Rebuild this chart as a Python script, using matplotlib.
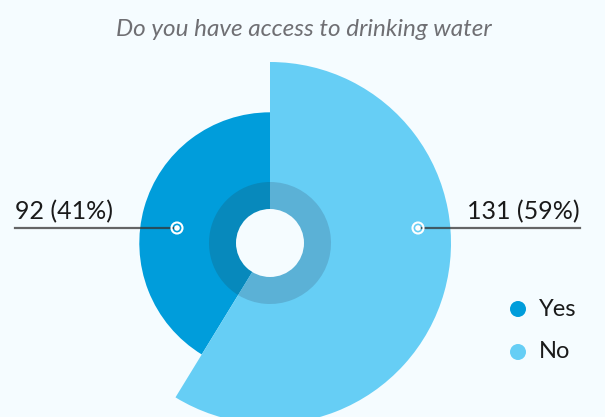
import numpy as np
import matplotlib.pyplot as plt
from matplotlib.patches import Wedge, Circle

# datos
labels = ["Yes", "No"]
values = [92, 131]
colors = ["#009DDB", "#66CEF5"]
inner_colors = ["#0789BC", "#5BB1D6"]
title = "Do you have access to drinking water"

bg = "#F5FCFF"
W, H = 605, 417
cx, cy = 270, H - 243
# radio ~ proporcional al valor (con un pequeño desplazamiento)
r0, scale = 12, (181 - 12) / max(values)
r_ring, r_hole = 61, 34

fig = plt.figure(figsize=(W / 100, H / 100), dpi=100, facecolor=bg)
ax = fig.add_axes([0, 0, 1, 1])
ax.set_xlim(0, W)
ax.set_ylim(0, H)
ax.set_aspect("equal")
ax.axis("off")

total = sum(values)
pcts = [v / total for v in values]

# el "No" empieza arriba y gira en sentido horario
start_no = 90 - 360 * pcts[1]
angles = {"No": (start_no, 90), "Yes": (90, start_no + 360)}

for lab, val, c, ic in zip(labels, values, colors, inner_colors):
    t1, t2 = angles[lab]
    ax.add_patch(Wedge((cx, cy), r0 + val * scale, t1, t2, color=c, lw=0))
    ax.add_patch(Wedge((cx, cy), r_ring, t1, t2, color=ic, lw=0))
ax.add_patch(Circle((cx, cy), r_hole, color=bg, lw=0))

# etiquetas con linea y marcador
ly = H - 228
marks = {"Yes": (177, 15, "left"), "No": (418, 580, "right")}
for lab, val, p in zip(labels, values, pcts):
    mx, lx_end, ha = marks[lab]
    ax.plot([mx, lx_end], [ly, ly], color="#333333", lw=1.6, alpha=0.75, zorder=3)
    ax.add_patch(Circle((mx, ly), 5.5, fill=False, ec="white", lw=1.5, zorder=4))
    ax.add_patch(Circle((mx, ly), 2.8, color="white", lw=0, zorder=5))
    txt = f"{val} ({p * 100:.0f}%)"
    ax.text(lx_end, ly + 5, txt, ha=ha, va="bottom", fontsize=18,
            family="Lato", color="#1A1A1A")

# leyenda
for i, (lab, c) in enumerate(zip(labels, colors)):
    y = H - 309 - i * 43
    ax.add_patch(Circle((518, y), 8, color=c, lw=0))
    ax.text(539, y, lab, ha="left", va="center", fontsize=17,
            family="Lato", color="#1A1A1A")

ax.text(W / 2 + 1, H - 29, title, ha="center", va="center", fontsize=17.5,
        style="italic", family="Lato", color="#6F6F73")

fig.savefig("out.png", dpi=100, facecolor=bg)
